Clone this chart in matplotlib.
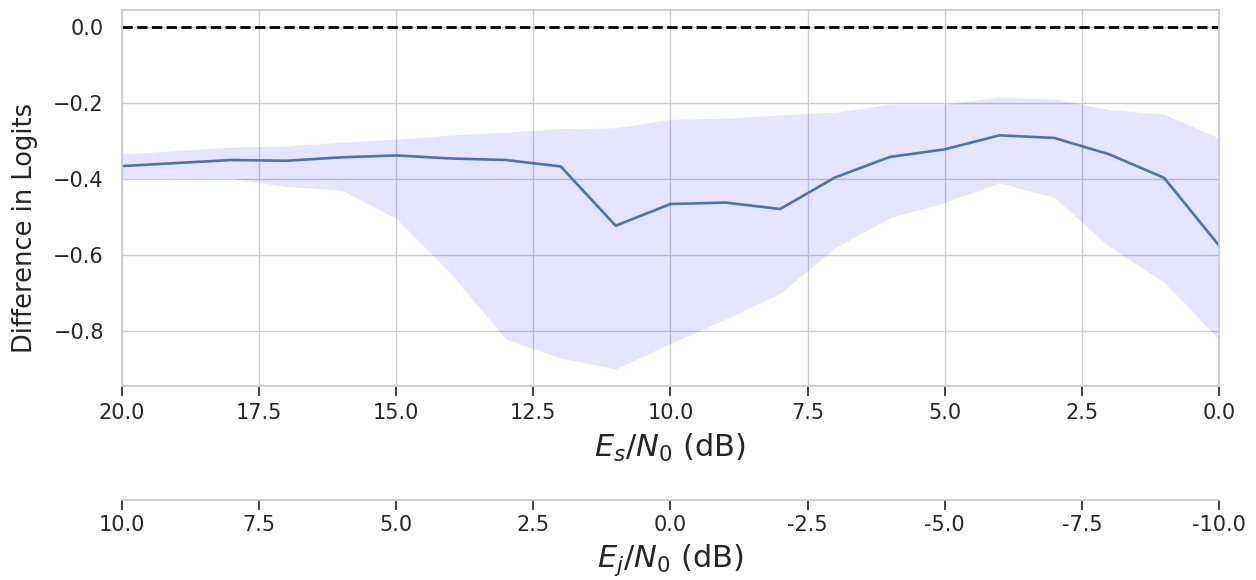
import matplotlib
matplotlib.use("Agg")
import matplotlib.pyplot as plt
import seaborn as sns
import numpy as np

sns.set_theme(style="whitegrid")
plt.rcParams['font.family'] = ['DejaVu Sans']

es_n0 = [20, 18, 17, 16, 15, 14, 13, 12, 11, 10, 9, 8, 7, 6, 5, 4, 3, 2, 1, 0]
mean_diff = [-0.366, -0.350, -0.352, -0.343, -0.338, -0.346, -0.350, -0.367, -0.523, -0.466,
             -0.462, -0.479, -0.396, -0.342, -0.322, -0.285, -0.292, -0.335, -0.397, -0.575]
upper = [-0.334, -0.316, -0.313, -0.303, -0.295, -0.284, -0.277, -0.267, -0.265, -0.243,
         -0.240, -0.231, -0.224, -0.203, -0.203, -0.184, -0.189, -0.217, -0.229, -0.292]
lower = [-0.398, -0.398, -0.420, -0.429, -0.504, -0.650, -0.822, -0.871, -0.900, -0.833,
         -0.769, -0.701, -0.581, -0.502, -0.462, -0.410, -0.449, -0.578, -0.672, -0.822]
ej_ticks = [10.0, 7.5, 5.0, 2.5, 0.0, -2.5, -5.0, -7.5, -10.0]
ej_offset = 10.0

fig = plt.figure(figsize=(12.56, 5.8), dpi=100)
ax = fig.add_axes([0.0971, 0.3345, 0.8734, 0.6483])

ax.fill_between(es_n0, lower, upper, color='blue', alpha=0.1, linewidth=0)
ax.plot(es_n0, mean_diff, color='#4c72b0', linewidth=1.9)
ax.axhline(0.0, color='black', linestyle='--', linewidth=2)

ax.set_xlim(20, 0)
ax.tick_params(axis='x', bottom=True, length=7, width=1.3, color='#333333', labelsize=15, pad=5)
ax.tick_params(axis='y', labelsize=15, pad=7)
ax.set_xlabel(r'$E_s/N_0$ (dB)', fontsize=22, labelpad=7)
ax.set_ylabel('Difference in Logits', fontsize=18.5)
ax.yaxis.set_label_coords(-0.0766, 0.42)
for s in ax.spines.values():
    s.set_color('#cccccc')
    s.set_linewidth(1.3)

sec = ax.secondary_xaxis(-0.303, functions=(lambda x: x - ej_offset, lambda x: x + ej_offset))
sec.set_xticks(ej_ticks)
sec.set_xticklabels([str(t) for t in ej_ticks])
sec.tick_params(axis='x', bottom=True, length=7, width=1.3, color='#333333', labelsize=15, pad=4)
sec.set_xlabel(r'$E_j/N_0$ (dB)', fontsize=22, labelpad=5)
for s in sec.spines.values():
    s.set_color('#cccccc')
    s.set_linewidth(1.3)

fig.savefig('out.png', dpi=100)
